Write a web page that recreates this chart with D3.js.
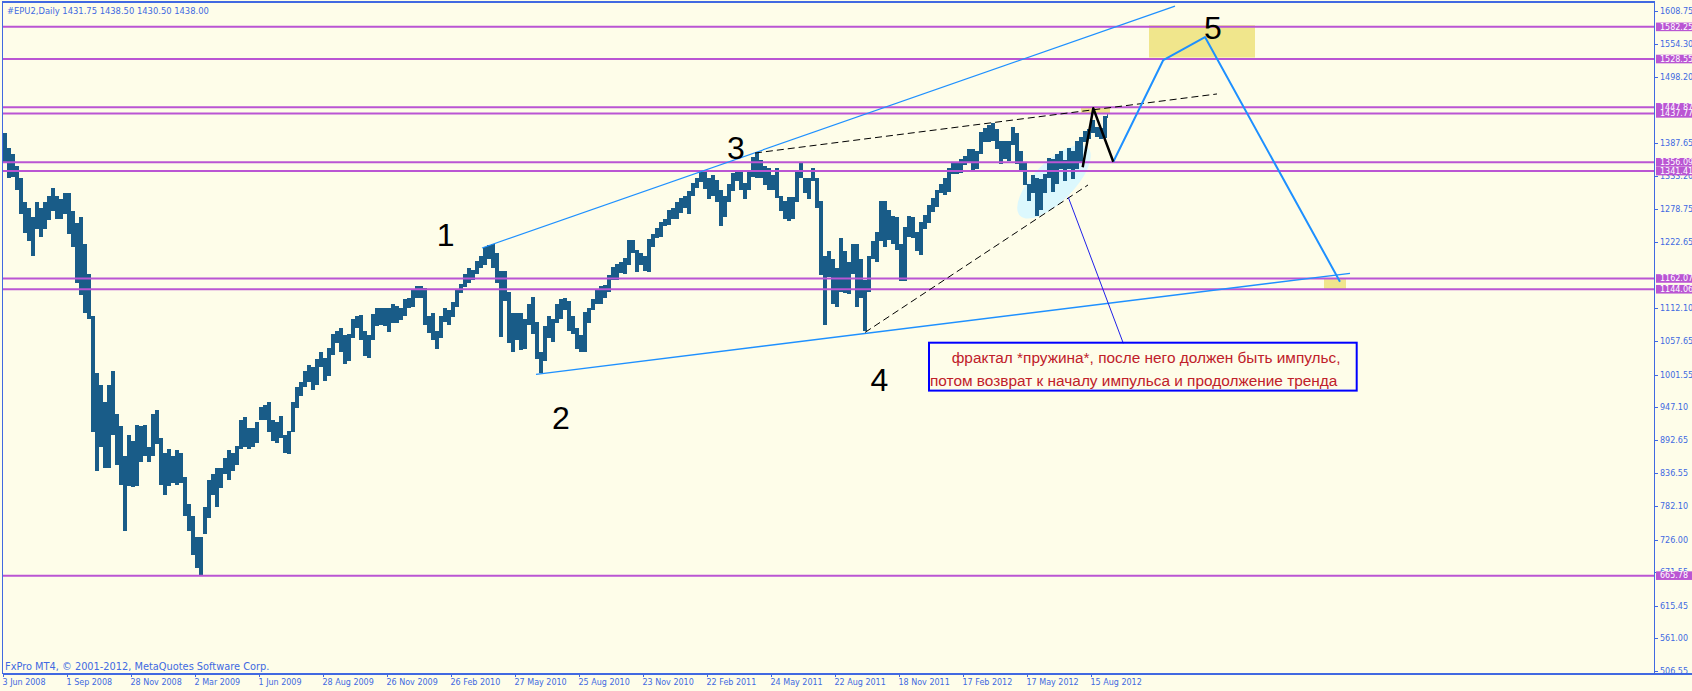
<!DOCTYPE html>
<html><head><meta charset="utf-8">
<script src="https://cdn.jsdelivr.net/npm/d3@7"></script>
<style>html,body{margin:0;padding:0;background:#FEFDE9;overflow:hidden}</style>
</head><body><svg id="c" width="1692" height="691"></svg>
<script>
const hi = [
1405,1380,1370,1350,1330,1290,1280,1265,1290,1280,1290,1300,1313,1300,1295,1305,
1305,1275,1255,1265,1220,1170,1100,1005,985,955,985,1007,935,915,865,900,
890,918,915,918,880,935,943,895,870,877,865,875,870,830,785,765,
730,730,780,825,835,845,845,862,875,870,882,925,930,912,912,922,
948,950,956,925,922,932,900,908,955,980,990,1008,1018,1015,1028,1040,
1030,1046,1070,1075,1080,1068,1070,1095,1100,1101,1075,1068,1102,1113,1112,1112,
1112,1119,1116,1113,1128,1130,1142,1150,1150,1146,1100,1105,1075,1100,1112,1110,
1122,1142,1153,1170,1180,1177,1192,1200,1214,1218,1220,1205,1175,1175,1140,1105,
1105,1105,1095,1120,1131,1090,1040,1082,1100,1095,1120,1128,1130,1125,1100,1080,
1068,1106,1112,1128,1145,1150,1152,1168,1181,1186,1190,1196,1227,1226,1210,1205,
1200,1228,1236,1246,1256,1261,1277,1280,1290,1297,1300,1308,1322,1330,1341,1344,
1330,1335,1326,1310,1300,1320,1338,1340,1340,1322,1340,1365,1371,1360,1350,1346,
1335,1346,1300,1292,1298,1298,1342,1356,1330,1330,1347,1330,1292,1200,1208,1195,
1180,1230,1208,1190,1220,1220,1195,1160,1200,1225,1240,1292,1292,1277,1267,1265,
1220,1248,1267,1265,1240,1256,1268,1285,1296,1310,1320,1330,1347,1355,1355,1362,
1367,1378,1378,1375,1406,1414,1419,1422,1412,1392,1392,1392,1415,1405,1375,1355,
1320,1335,1330,1328,1336,1364,1362,1370,1375,1360,1380,1375,1392,1398,1408,1412,
1427,1415,1414,1433,1438.5];
const lo = [
1355,1330,1332,1310,1270,1238,1225,1200,1245,1232,1245,1260,1275,1262,1262,1270,
1236,1215,1155,1135,1105,1095,905,840,880,845,845,900,850,818,741,815,
814,815,855,865,855,865,885,818,800,815,820,818,820,765,740,700,
678,666,735,762,800,780,812,835,825,840,850,878,880,878,880,888,
925,925,905,890,888,895,870,869,905,945,965,980,990,975,985,1015,
991,1000,1035,1055,1040,1020,1025,1062,1080,1060,1033,1029,1060,1082,1085,1083,
1073,1088,1088,1092,1100,1113,1115,1130,1130,1085,1071,1060,1044,1062,1090,1085,
1098,1115,1138,1148,1155,1160,1170,1180,1185,1195,1180,1155,1065,1125,1055,1040,
1060,1042,1045,1085,1070,1028,1005,1025,1062,1056,1088,1095,1110,1075,1070,1045,
1039,1040,1088,1110,1120,1120,1130,1140,1160,1160,1172,1170,1185,1205,1173,1185,
1175,1173,1215,1230,1232,1250,1252,1262,1262,1272,1280,1270,1300,1313,1323,1312,
1294,1300,1290,1249,1265,1290,1308,1325,1309,1294,1310,1332,1330,1330,1318,1310,
1310,1296,1274,1262,1258,1262,1290,1330,1305,1295,1325,1280,1168,1085,1165,1120,
1115,1140,1137,1136,1170,1114,1130,1074,1140,1195,1190,1225,1215,1226,1220,1210,
1158,1158,1232,1230,1208,1202,1245,1255,1273,1282,1305,1302,1306,1336,1336,1338,
1352,1355,1340,1345,1370,1390,1390,1392,1378,1354,1362,1358,1385,1354,1343,1318,
1291,1305,1266,1276,1305,1330,1307,1320,1345,1325,1345,1329,1345,1355,1390,1395,
1405,1398,1395,1396,1430.5];
const barsPerSample = 4;
const totalBars = 1105;

const xTickLabels = ["3 Jun 2008","1 Sep 2008","28 Nov 2008","2 Mar 2009","1 Jun 2009","28 Aug 2009",
 "26 Nov 2009","26 Feb 2010","27 May 2010","25 Aug 2010","23 Nov 2010","22 Feb 2011","24 May 2011",
 "22 Aug 2011","18 Nov 2011","17 Feb 2012","17 May 2012","15 Aug 2012"];
const barsPerTick = 64;
const yTickValues = [1608.75,1554.30,1498.20,1387.65,1333.20,1278.75,1222.65,1112.10,
 1057.65,1001.55,947.10,892.65,836.55,782.10,726.00,671.55,615.45,561.00,506.55];
const levels = [1582.25,1528.55,1447.87,1437.77,1356.09,1341.41,1162.07,1144.06,665.78];

// annotations in (bar index, price)
const upperChannel = [[479,1213],[1172,1617]];
const lowerChannel = [[533,1002],[1347,1170.7]];
const dashedTop = [[752,1371.6],[1214,1470.2]];
const dashedBottom = [[862,1072],[1085,1318.2]];
const blackZig = [[1079.7,1347.7],[1090.3,1446.2],[1110.3,1356.9]];
const projection = [[1110.3,1356.9],[1160.3,1526.9],[1202,1565.3],[1337,1156.7]];
const pointer = [[1065.3,1297.6],[1120.3,1053.8]];
const boxes = [[1146,1252,1585,1531],[1078,1107,1447.87,1437.77],[1321,1343,1162.07,1144.06]];
const spring = {idx:1051, price:1323.7};
const waveText = ["1","2","3","4","5"];
const waveIdx = [442.6,558,733,876.4,1210];
const wavePrice = [1216.3,909.9,1362.3,974.8,1561.5];
const noteBox = [926,1353.7,1054.8,974.8];
const noteLines = ["фрактал *пружина*, после него должен быть импульс,",
                   "потом возврат к началу импульса и продолжение тренда"];
const header = "#EPU2,Daily  1431.75 1438.50 1430.50 1438.00";
const footer = "FxPro MT4, \u00A9 2001-2012, MetaQuotes Software Corp.";

// ---- layout ----
const W=1692,H=691, L=2.5, T=2, R=1654.5, B=674;
const BG="#FEFDE9", AX="#4169E1", LV="#BA55D3", BAR="#195c88";
const svg=d3.select("#c");
svg.append("rect").attr("width",W).attr("height",H).attr("fill",BG);

const x=d3.scaleLinear().domain([0,1651]).range([3,1654]);
const y=d3.scaleLinear().domain([506.55,1608.75]).range([671,11]);

svg.append("clipPath").attr("id","clip").append("rect").attr("x",L).attr("y",T).attr("width",R-L).attr("height",B-T);
const g=svg.append("g").attr("clip-path","url(#clip)");

// background objects
g.selectAll("rect.box").data(boxes).join("rect").attr("class","box")
 .attr("x",d=>x(d[0])).attr("width",d=>x(d[1])-x(d[0]))
 .attr("y",d=>y(d[2])).attr("height",d=>y(d[3])-y(d[2])).attr("fill","#F0E68C");
g.append("ellipse").attr("cx",x(spring.idx)).attr("cy",y(spring.price)).attr("rx",48).attr("ry",20)
 .attr("transform",`rotate(-45 ${x(spring.idx)} ${y(spring.price)})`).attr("fill","#dcf8fd");

// price bars
g.selectAll("rect.bar").data(hi).join("rect").attr("class","bar")
 .attr("x",(d,i)=>x(i*barsPerSample))
 .attr("width",(d,i)=>x(Math.min((i+1)*barsPerSample,totalBars))-x(i*barsPerSample))
 .attr("y",d=>y(d)).attr("height",(d,i)=>Math.max(1,y(lo[i])-y(d)))
 .attr("fill",BAR).attr("shape-rendering","crispEdges");

// level lines
g.selectAll("line.lv").data(levels).join("line").attr("class","lv")
 .attr("x1",L).attr("x2",R).attr("y1",d=>y(d)).attr("y2",d=>y(d))
 .attr("stroke",LV).attr("stroke-width",2);

const line=d3.line().x(d=>x(d[0])).y(d=>y(d[1]));
g.append("path").attr("d",line(upperChannel)).attr("stroke","#1E90FF").attr("stroke-width",1.2).attr("fill","none");
g.append("path").attr("d",line(lowerChannel)).attr("stroke","#1E90FF").attr("stroke-width",1.3).attr("fill","none");
g.append("path").attr("d",line(dashedTop)).attr("stroke","#000").attr("stroke-width",1).attr("stroke-dasharray","7,4").attr("fill","none");
g.append("path").attr("d",line(dashedBottom)).attr("stroke","#000").attr("stroke-width",1).attr("stroke-dasharray","7,4").attr("fill","none");
g.append("path").attr("d",line(projection)).attr("stroke","#1E90FF").attr("stroke-width",2).attr("fill","none").attr("stroke-linejoin","round");
g.append("path").attr("d",line(blackZig)).attr("stroke","#000").attr("stroke-width",2.5).attr("fill","none").attr("stroke-linejoin","round");
g.append("path").attr("d",line(pointer)).attr("stroke","#2020e8").attr("stroke-width",1).attr("fill","none");

// note box
const bx=x(noteBox[0]), by=y(noteBox[2]);
g.append("rect").attr("x",bx).attr("y",by)
 .attr("width",x(noteBox[1])-bx).attr("height",y(noteBox[3])-by)
 .attr("fill","none").attr("stroke","#0000FF").attr("stroke-width",2);
const nt=g.append("text").attr("font-family","Liberation Sans, Arial, sans-serif").attr("font-size",15.4).attr("fill","#c0202a");
nt.append("tspan").attr("x",bx+22.7).attr("y",by+20).text(noteLines[0]);
nt.append("tspan").attr("x",bx+1).attr("y",by+43.5).text(noteLines[1]);

// wave labels
g.selectAll("text.wv").data(waveText).join("text").attr("class","wv")
 .attr("x",(d,i)=>x(waveIdx[i])).attr("y",(d,i)=>y(wavePrice[i]))
 .attr("text-anchor","middle").attr("font-family","Liberation Sans, Arial, sans-serif")
 .attr("font-size",32).attr("fill","#000").text(d=>d);

// header/footer
svg.append("text").attr("x",7).attr("y",14).attr("font-family","DejaVu Sans, sans-serif").attr("font-size",8.4).attr("fill",AX).text(header);
svg.append("text").attr("x",5).attr("y",669.5).attr("font-family","DejaVu Sans, sans-serif").attr("font-size",9.8).attr("fill",AX).text(footer);

// axes
const yAxis=d3.axisRight(y).tickValues(yTickValues).tickSize(3).tickPadding(2.5).tickFormat(d3.format(".2f"));
const ya=svg.append("g").attr("transform",`translate(${R},0)`).call(yAxis);
ya.select(".domain").remove();
ya.selectAll("line").attr("stroke",AX).attr("shape-rendering","crispEdges");
ya.selectAll("text").attr("font-family","DejaVu Sans, sans-serif").attr("font-size",8).attr("fill",AX);

const xIdx=xTickLabels.map((d,i)=>i*barsPerTick);
const xAxis=d3.axisBottom(x).tickValues(xIdx).tickSize(3).tickPadding(2).tickFormat((d,i)=>xTickLabels[i]);
const xa=svg.append("g").attr("transform",`translate(0,${B})`).call(xAxis);
xa.select(".domain").remove();
xa.selectAll("line").attr("stroke",AX).attr("shape-rendering","crispEdges");
xa.selectAll("text").attr("font-family","DejaVu Sans, sans-serif").attr("font-size",8).attr("fill",AX)
  .attr("text-anchor","start").attr("dx",-1);

// frame
svg.append("path").attr("d",`M${L},${B}V${T}H${R}V${B}H${L}`).attr("fill","none").attr("stroke",AX).attr("stroke-width",1.3).attr("shape-rendering","crispEdges");
svg.append("line").attr("x1",L).attr("x2",W).attr("y1",B).attr("y2",B).attr("stroke",AX).attr("stroke-width",1.3).attr("shape-rendering","crispEdges");

// level labels
const lg=svg.append("g");
levels.forEach(v=>{
  lg.append("rect").attr("x",R+1.5).attr("y",y(v)-4.3).attr("width",W-R).attr("height",8.6).attr("fill",LV);
  lg.append("text").attr("x",R+5.5).attr("y",y(v)).attr("dy","0.35em").attr("font-family","DejaVu Sans, sans-serif")
    .attr("font-size",8).attr("fill","#fff").text(d3.format(".2f")(v));
});
</script></body></html>
